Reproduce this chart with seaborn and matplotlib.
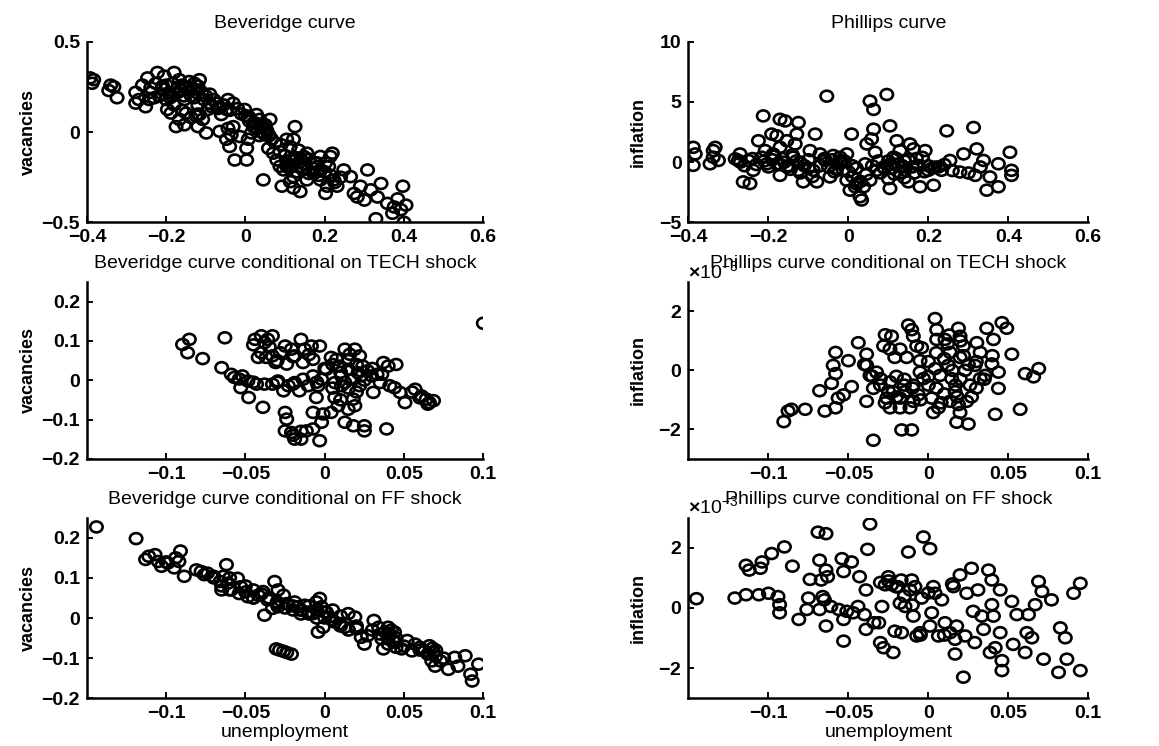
import numpy as np
import pandas as pd
import matplotlib
matplotlib.use("Agg")
import matplotlib.pyplot as plt
from matplotlib.ticker import ScalarFormatter
from matplotlib.path import Path
import seaborn as sns

# ---------------- data ----------------
# Panel 1: Beveridge curve
bev_u = [-0.392, -0.383, -0.387, -0.34, -0.332, -0.345, -0.324, -0.277, -0.277, -0.269, -0.252, -0.243,
         -0.26, -0.247, -0.239, -0.222, -0.226, -0.209, -0.205, -0.218, -0.20, -0.197, -0.188, -0.184,
         -0.192, -0.18, -0.167, -0.163, -0.154, -0.15, -0.142, -0.129, -0.12, -0.116, -0.125, -0.137,
         -0.15, -0.167, -0.175, -0.154, -0.137, -0.116, -0.12, -0.099, -0.108, -0.095, -0.09, -0.074,
         -0.065, -0.061, -0.048, -0.044, -0.031, -0.031, -0.036, -0.044, -0.065, -0.048, -0.04, -0.027,
         0.003, -0.014, 0.007, 0.003, 0.015, 0.02, 0.007, -0.002, 0.028, 0.036, 0.045, 0.053, 0.062,
         0.049, 0.066, 0.058, 0.045, 0.07, 0.087, 0.079, 0.087, 0.096, 0.104, 0.113, 0.125, 0.121,
         0.104, 0.113, 0.134, 0.147, 0.155, 0.138, 0.121, 0.113, 0.092, 0.121, 0.138, 0.155, 0.172,
         0.18, 0.189, 0.202, 0.21, 0.214, 0.219, 0.189, 0.206, 0.202, 0.223, 0.231, 0.248, 0.265,
         0.274, 0.282, 0.30, 0.308, 0.316, 0.333, 0.342, 0.358, 0.375, 0.371, 0.397, 0.405, 0.329,
         0.40, 0.392, 0.384, 0.29, -0.21, -0.19, -0.17, -0.14, -0.13, -0.10, -0.08, -0.12, -0.18,
         -0.16, 0.01, 0.02, 0.03, 0.04, 0.05, 0.035, 0.11, 0.13, 0.15, 0.17, 0.16, 0.12, 0.14, 0.18,
         0.19, -0.125, -0.12,
         -0.24, -0.23, -0.21, -0.20, -0.185, -0.17, -0.16, -0.155, -0.14, -0.13, -0.11, -0.105, -0.09,
         -0.085, -0.07, -0.055, -0.04, -0.02, -0.01, 0.0, 0.01, 0.025, 0.04, 0.055, 0.06, 0.075, 0.09,
         0.10, 0.105, 0.115, 0.125, 0.135, 0.145, 0.16, 0.175, 0.185, 0.20, 0.215, 0.225, 0.24]
bev_v = [0.30, 0.29, 0.27, 0.26, 0.25, 0.23, 0.19, 0.22, 0.16, 0.18, 0.14, 0.18,
         0.26, 0.30, 0.245, 0.33, 0.27, 0.255, 0.31, 0.20, 0.18, 0.125, 0.105, 0.27,
         0.22, 0.33, 0.29, 0.236, 0.18, 0.245, 0.28, 0.27, 0.255, 0.29, 0.22, 0.20,
         0.105, 0.07, 0.03, 0.04, 0.08, 0.097, 0.03, -0.005, 0.07, 0.125, 0.21, 0.16,
         0.14, 0.097, 0.125, 0.18, 0.16, 0.03, -0.015, 0.02, 0.004, -0.04, -0.08, -0.155,
         -0.155, -0.025, -0.04, -0.09, -0.005, 0.05, 0.087, 0.125, 0.097, 0.07, 0.04, 0.013, 0.07,
         -0.015, -0.04, -0.09, -0.265, -0.117, -0.108, -0.155, -0.19, -0.21, -0.19, -0.155, 0.03, -0.04,
         -0.04, -0.08, -0.10, -0.135, -0.117, -0.19, -0.247, -0.275, -0.30, -0.31, -0.33, -0.265, -0.23,
         -0.17, -0.135, -0.17, -0.19, -0.135, -0.117, -0.265, -0.30, -0.34, -0.265, -0.30, -0.21, -0.247,
         -0.34, -0.36, -0.377, -0.21, -0.32, -0.36, -0.285, -0.395, -0.415, -0.45, -0.30, -0.405, -0.48,
         -0.50, -0.43, -0.37, -0.30, 0.21, 0.19, 0.25, 0.23, 0.19, 0.20, 0.18, 0.15, 0.15,
         0.12, 0.06, 0.03, 0.02, 0.0, 0.04, -0.02, -0.20, -0.22, -0.18, -0.20, -0.23, -0.15, -0.15, -0.22,
         -0.21, 0.09, 0.10,
         0.22, 0.19, 0.24, 0.26, 0.20, 0.22, 0.26, 0.20, 0.25, 0.24, 0.22, 0.18, 0.16,
         0.14, 0.13, 0.15, 0.12, 0.13, 0.10, 0.09, 0.08, 0.05, 0.03, 0.0, -0.02, -0.06, -0.07,
         -0.13, -0.17, -0.19, -0.14, -0.17, -0.20, -0.15, -0.17, -0.24, -0.22, -0.24, -0.28, -0.25]

# Panel 2: Phillips curve
phil_u = [-0.388, -0.388, -0.383, -0.346, -0.338, -0.333, -0.325, -0.338, -0.283, -0.271, -0.275,
          -0.263, -0.246, -0.25, -0.238, -0.225, -0.213, -0.217, -0.204, -0.208, -0.192, -0.179,
          -0.171, -0.158, -0.125, -0.129, -0.133, -0.154, -0.171, -0.188, -0.179, -0.171, -0.154,
          -0.138, -0.125, -0.113, -0.121, -0.096, -0.083, -0.088, -0.079, -0.071, -0.058, -0.054,
          -0.046, -0.038, -0.029, -0.021, -0.013, -0.004, -0.004, 0.008, 0.004, 0.017, 0.029, 0.033,
          0.038, 0.042, 0.046, 0.054, 0.063, 0.063, 0.058, 0.067, 0.054, 0.071, 0.096, 0.104, 0.088,
          0.10, 0.104, 0.113, 0.121, 0.125, 0.129, 0.142, 0.154, 0.163, 0.15, 0.175, 0.179, 0.192,
          0.20, 0.213, 0.217, 0.233, 0.246, 0.254, 0.279, 0.288, 0.313, 0.321, 0.317, 0.338, 0.346,
          0.354, 0.375, 0.375, 0.404, 0.408, 0.408, -0.19, -0.16, -0.15, -0.14, -0.11, -0.10, 0.11,
          0.12, 0.13, 0.14, 0.16, 0.17, 0.19, 0.14, 0.10, 0.08, 0.0, 0.01, 0.02, 0.03, -0.02, -0.03,
          -0.27, -0.26, -0.24, -0.23, -0.21, -0.20, -0.185, -0.17, -0.165, -0.145, -0.13, -0.12, -0.10,
          -0.09, -0.07, -0.06, -0.05, -0.04, -0.035, -0.01, 0.01, 0.02, 0.045, 0.06, 0.075, 0.09, 0.105,
          0.115, 0.135, 0.15, 0.165, 0.185, 0.20, 0.21, 0.225, 0.24, 0.26, 0.30, 0.33]
phil_p = [-0.27, 1.23, 0.68, -0.14, 0.96, 1.23, 0.14, 0.41, 0.27, 0.68, 0.14,
          -1.64, -1.78, 0.14, -0.68, 1.78, 3.84, 0.41, -0.14, 0.96, 2.33, 2.19,
          3.56, 3.42, 3.29, 2.33, 1.51, 1.78, 1.23, 0.68, -0.14, -1.10, -0.41,
          0.41, -0.68, -1.64, 0.0, 0.96, 2.33, -0.68, -1.64, 0.68, 0.14, 5.48,
          -1.23, 0.55, -0.14, 0.41, -0.68, 0.68, -1.51, 2.33, -2.33, -2.05, -2.88, -3.15,
          -2.05, -0.14, 1.51, 5.07, 4.38, 2.74, 1.92, 0.82, -1.51, -0.68, 5.62, 3.01, -0.41,
          -1.37, -2.19, 0.41, 1.78, -0.14, 0.96, -0.68, 1.51, 1.10, -1.64, -0.27, -2.05, 0.96,
          -0.68, -1.92, -0.41, -0.68, 2.60, 0.14, -0.82, 0.68, 2.88, 1.10, -1.10, 0.14, -2.33,
          -1.23, -0.14, -2.05, 0.82, -0.68, -1.10, 0.2, 0.0, -0.3, 0.6, -0.3, 0.2, -0.5,
          0.3, -0.9, 0.1, -0.4, 0.3, -0.8, -1.3, 0.1, -0.9, -0.8, -1.2, -0.5, -1.6, 0.1, -0.6,
          0.0, -0.3, 0.3, -0.2, 0.1, -0.4, 0.5, -0.2, 0.3, -0.6, 0.1, -0.9, -0.5,
          -1.2, -0.3, 0.3, -0.4, 0.2, -0.8, 0.1, -0.3, -1.8, -1.0, -0.3, 0.1, -0.5, -0.2,
          -1.0, -0.3, 0.2, -0.9, 0.4, -0.3, -0.5, -0.4, -0.2, -0.7, -0.9, -0.4]

# Panel 3: Beveridge curve conditional on TECH shock
tech_bu = [0.10, -0.0897, -0.0854, -0.0865, -0.077, -0.063, -0.065, -0.059, -0.057, -0.054, -0.052,
           -0.0485, -0.053, -0.048, -0.043, -0.038, -0.039, -0.044, -0.040, -0.036, -0.033, -0.038,
           -0.042, -0.037, -0.033, -0.028, -0.031, -0.025, -0.021, -0.019, -0.015, -0.0127, -0.0084,
           -0.0032, -0.0074, -0.0137, -0.024, -0.0295, -0.033, -0.023, -0.026, -0.019, -0.016, -0.0137,
           -0.0105, -0.0074, -0.0042, -0.0053, -0.002, 0.001, 0.004, 0.0074, 0.0095, 0.0127, 0.0158,
           0.019, 0.022, 0.024, 0.021, 0.0148, 0.0105, 0.0063, 0.0127, 0.018, 0.023, 0.027, 0.0295,
           0.033, 0.037, 0.040, 0.035, 0.0306, 0.022, 0.018, 0.019, 0.0148, 0.0063, 0.0084, 0.004,
           -0.001, -0.002, -0.0074, 0.0127, 0.018, 0.025, 0.025, 0.039, -0.025, -0.024, -0.025, -0.021,
           -0.019, -0.015, -0.0116, -0.0074, -0.0032, 0.041, 0.044, 0.0475, 0.0506, 0.057, 0.061, 0.064,
           0.066, 0.0686, 0.065, 0.036, 0.0105,
           -0.045, -0.040, -0.035, -0.030, -0.020, -0.010, 0.0, 0.005, 0.010, 0.015, 0.020, 0.025, 0.030,
           0.015, 0.005, -0.005, -0.020, -0.030, -0.045, 0.020, 0.010, -0.015, -0.020, 0.045, 0.055, 0.060]
tech_bv = [0.145, 0.091, 0.104, 0.070, 0.055, 0.108, 0.032, 0.015, 0.007, 0.003, 0.011,
           -0.002, -0.019, -0.044, -0.010, -0.010, -0.069, 0.104, 0.113, 0.104, 0.113, 0.096,
           0.058, 0.058, 0.062, 0.070, 0.045, 0.087, 0.079, 0.062, 0.104, 0.079, 0.087,
           0.087, 0.053, 0.045, 0.041, -0.002, -0.010, -0.014, -0.027, -0.006, -0.027, 0.0025,
           -0.014, 0.011, -0.014, -0.044, 0.0025, 0.028, 0.058, 0.053, 0.036, 0.079, 0.066,
           0.079, 0.062, 0.036, 0.019, 0.028, 0.011, -0.006, -0.006, 0.0025, 0.011, 0.024, 0.011,
           0.015, 0.045, 0.036, -0.006, -0.031, -0.014, -0.048, -0.065, -0.074, -0.044, -0.065, -0.082,
           -0.086, -0.107, -0.082, -0.107, -0.116, -0.116, -0.129, -0.124, -0.082, -0.099, -0.129, -0.133,
           -0.150, -0.150, -0.129, -0.124, -0.154, -0.014, -0.019, -0.031, -0.057, -0.023, -0.040, -0.048,
           -0.057, -0.052, -0.061, 0.015, -0.014,
           0.090, 0.070, 0.085, 0.050, 0.060, 0.065, 0.030, 0.040, 0.020, 0.050, 0.040, 0.000, 0.030,
           -0.020, -0.020, -0.005, -0.010, -0.005, -0.005, -0.030, -0.050, -0.130, -0.140, 0.040, -0.030, -0.045]

# Panel 4: Phillips curve conditional on TECH shock (x 10^-3)
tech_pu = [-0.0904, -0.0877, -0.0856, -0.077, -0.0647, -0.068, -0.058, -0.0564, -0.053, -0.048, -0.0605,
           -0.058, -0.0595, -0.058, -0.050, -0.0438, -0.0386, -0.0386, -0.0365, -0.0344, -0.0386,
           -0.0344, -0.0324, -0.030, -0.027, -0.028, -0.024, -0.023, -0.021, -0.0177, -0.0136, -0.0125,
           -0.0104, -0.0094, -0.0073, -0.0042, -0.0052, -0.024, -0.022, -0.026, -0.024, -0.0177, -0.0177,
           -0.0115, -0.0094, -0.0146, -0.0094, -0.0063, -0.0052, -0.0031, -0.0167, -0.0104, 0.0, 0.0021,
           0.0042, 0.0052, 0.0052, 0.0042, 0.0073, 0.0063, 0.0031, 0.0104, 0.0136, 0.0125, 0.0146,
           0.0167, 0.0136, 0.0188, 0.0198, 0.0219, 0.0198, 0.023, 0.0188, 0.0198, 0.0177, 0.025, 0.024,
           0.026, 0.0303, 0.0324, 0.0292, 0.0324, 0.0355, 0.0365, 0.0407, 0.0397, 0.0438, 0.0438,
           0.0418, 0.046, 0.049, 0.0522, 0.0574, 0.0605, 0.0658, 0.069, 0.0, 0.01, 0.015, 0.02,
           -0.02, -0.015, 0.005, 0.025, 0.03, 0.01,
           -0.030, -0.025, -0.020, -0.015, -0.010, -0.005, 0.0, 0.005, 0.008, 0.012, 0.017, 0.022,
           0.027, 0.030, 0.035, 0.040, -0.027, -0.035, -0.040, 0.018, 0.013, 0.020]
tech_pp = [-1.74, -1.38, -1.32, -1.32, -1.38, -0.69, -1.27, -0.94, -0.83, -0.55, -0.44,
           -0.11, 0.17, 0.61, 0.33, 0.94, 0.55, 0.17, -0.17, -0.61, -1.05,
           -2.37, -0.06, -0.28, 1.21, 0.83, 0.72, 1.16, 0.44, 0.72, 0.44, 1.54,
           1.38, 1.16, 0.83, 0.77, 0.33, -0.39, -0.72, -0.94, -1.27, -0.94, -1.27,
           -1.27, -1.05, -0.72, -0.50, -0.83, -0.06, -0.28, -2.02, -2.02, -0.50, -0.94,
           1.76, 1.38, 1.05, 0.06, -0.17, -1.27, -1.43, 1.05, 0.61, 0.17, -0.28,
           -0.72, -1.05, 1.43, 1.16, 0.83, 0.44, 0.0, -1.16, -1.43, -1.76, -1.82, -1.05,
           -0.50, 0.94, 0.61, 0.17, -0.28, -0.17, 1.43, 1.05, 0.22, -0.06, -0.61,
           -1.49, 1.62, 1.43, 0.55, -1.32, -0.11, -0.22, 0.06, 0.3, 0.4, 0.0, -0.3,
           -0.2, -0.5, -0.6, 0.2, -0.6, -0.8,
           -0.5, -0.7, -0.9, -0.3, -0.6, -1.0, -0.2, 0.6, -1.1, 0.9, -0.5, 0.5,
           -0.9, 0.3, -0.3, 0.5, -1.1, -0.2, 0.2, -0.9, 1.2, 1.0]

# Panel 5: Beveridge curve conditional on FF shock
ff_bu = [-0.144, -0.119, -0.113, -0.111, -0.107, -0.105, -0.103, -0.099, -0.095, -0.092, -0.091,
         -0.094, -0.0886, -0.081, -0.078, -0.076, -0.074, -0.070, -0.066, -0.064, -0.062, -0.061,
         -0.065, -0.059, -0.055, -0.053, -0.054, -0.0485, -0.045, -0.042, -0.039, -0.038, -0.036,
         -0.0316, -0.0295, -0.026, -0.024, -0.0295, -0.033, -0.0306, -0.0285, -0.026, -0.024, -0.021,
         -0.019, -0.017, -0.0148, -0.0127, -0.0105, -0.0074, -0.0053, -0.0032, -0.0021, 0.001, -0.0042,
         -0.001, 0.003, 0.0063, 0.0095, 0.0127, 0.0148, 0.019, 0.020, 0.023, 0.025, 0.027, 0.031,
         0.034, 0.036, 0.037, 0.040, 0.041, 0.043, 0.044, 0.045, 0.0485, 0.052, 0.055, 0.057, 0.060,
         0.063, 0.066, 0.0686, 0.0675, 0.0696, 0.073, 0.078, 0.082, 0.084, 0.0886, 0.092, 0.093,
         0.097, -0.03, -0.02, -0.01, 0.0, 0.005, -0.045, -0.05, -0.06, 0.04, 0.042, 0.045, 0.065,
         0.07, 0.01, 0.015, -0.005, -0.015, -0.04,
         -0.100, -0.070, -0.065, -0.060, -0.050, -0.045, -0.035, -0.030, -0.025, -0.020, -0.015,
         -0.010, -0.005, 0.0, 0.005, 0.010, 0.020, 0.030, 0.035, 0.045, 0.050, 0.060, 0.070, 0.075,
         0.068, 0.040, 0.038]
ff_bv = [0.227, 0.198, 0.146, 0.154, 0.158, 0.141, 0.129, 0.137, 0.125, 0.141, 0.167,
         0.150, 0.104, 0.120, 0.116, 0.108, 0.112, 0.104, 0.091, 0.104, 0.133, 0.087,
         0.070, 0.070, 0.099, 0.078, 0.061, 0.053, 0.070, 0.057, 0.066, 0.007, 0.045,
         0.091, 0.070, 0.057, 0.036, 0.028, 0.024, -0.077, -0.080, -0.083, -0.086, -0.090,
         0.040, 0.028, 0.019, 0.032, 0.015, 0.011, 0.040, 0.049, 0.028, 0.015, -0.035,
         -0.023, 0.0025, -0.010, -0.014, -0.023, 0.011, 0.0025, -0.027, -0.048, -0.065, -0.044, -0.006,
         -0.023, -0.052, -0.077, -0.023, -0.040, -0.056, -0.035, -0.073, -0.077, -0.056, -0.082, -0.065, -0.073,
         -0.082, -0.069, -0.086, -0.107, -0.120, -0.107, -0.128, -0.098, -0.120, -0.094, -0.140, -0.157,
         -0.115, 0.04, 0.02, 0.03, 0.0, 0.02, 0.05, 0.08, 0.10, -0.05, -0.03, -0.05, -0.09,
         -0.08, -0.02, -0.03, 0.0, 0.01, 0.06,
         0.140, 0.100, 0.080, 0.070, 0.065, 0.050, 0.050, 0.035, 0.025, 0.030, 0.020,
         0.010, 0.020, 0.015, -0.005, 0.005, -0.020, -0.030, -0.040, -0.060, -0.070, -0.080, -0.095, -0.100,
         -0.075, -0.065, -0.035]

# Panel 6: Phillips curve conditional on FF shock (x 10^-3)
ff_pu = [-0.145, -0.121, -0.114, -0.106, -0.10, -0.094, -0.093, -0.093, -0.114, -0.112, -0.105,
         -0.104, -0.098, -0.090, -0.085, -0.081, -0.076, -0.075, -0.074, -0.069, -0.064, -0.068,
         -0.067, -0.064, -0.063, -0.066, -0.065, -0.068, -0.064, -0.061, -0.056, -0.053, -0.054,
         -0.053, -0.053, -0.051, -0.048, -0.047, -0.044, -0.043, -0.040, -0.039, -0.039, -0.038,
         -0.0365, -0.034, -0.031, -0.030, -0.029, -0.028, -0.027, -0.025, -0.022, -0.021, -0.023,
         -0.019, -0.017, -0.0177, -0.0167, -0.0146, -0.0125, -0.0115, -0.0104, -0.0094, -0.0084,
         -0.0073, -0.0052, -0.0042, -0.0031, 0.001, 0.0021, 0.001, 0.0031, 0.0042, 0.0063, 0.0084,
         0.0104, 0.0136, 0.0157, 0.0167, 0.0167, 0.0177, 0.0198, 0.0219, 0.023, 0.024, 0.027, 0.028,
         0.029, 0.031, 0.0334, 0.0345, 0.0376, 0.0386, 0.0397, 0.0397, 0.0407, 0.0418, 0.0449, 0.0449,
         0.046, 0.046, 0.0522, 0.053, 0.0553, 0.0605, 0.0626, 0.0616, 0.0668, 0.0647, 0.0689, 0.071,
         0.072, 0.077, 0.0825, 0.0856, 0.0814, 0.0866, 0.0908, 0.095, 0.095,
         -0.020, -0.015, -0.010, -0.005, 0.0, 0.010, 0.015, -0.030, -0.025]
ff_pp = [0.31, 0.33, 0.44, 0.44, 0.49, 0.38, 0.11, -0.16, 1.42, 1.26, 1.32,
         1.53, 1.81, 2.03, 1.39, -0.38, -0.05, 0.33, 0.95, 2.52, 2.47, 1.59,
         0.93, 1.26, 1.04, 0.38, 0.27, -0.05, -0.60, 0.05, -0.05, 1.21, 1.64,
         -0.38, -1.10, -0.11, 1.53, -0.16, 0.05, 1.04, -0.22, -0.71, 0.60, 1.95,
         2.79, -0.49, -0.49, -1.15, 0.05, -1.32, 0.77, 1.04, -1.48, -0.77, 0.77,
         0.71, 0.93, 0.16, -0.82, 0.05, 1.86, 0.60, 0.93, -0.27, 0.71,
         -0.93, -0.82, 0.33, 2.36, 1.97, -0.16, -0.60, 0.71, 0.49, -0.93, 0.27,
         -0.49, -0.82, 0.71, -1.04, -1.53, -0.60, 1.10, -2.30, -0.93, 0.49, 1.32, -0.11,
         -1.15, 0.60, -0.27, -0.71, 1.26, -1.48, 0.93, 0.11, -0.27, -1.32, 0.60, -0.82,
         -1.75, -2.08, 0.22, -1.21, -0.22, -1.48, -0.22, -0.82, 0.11, -0.99, 0.88, 0.55,
         -1.70, 0.27, -0.66, -0.99, -2.14, -1.70, 0.49, 0.82, -2.08,
         0.7, 0.4, 0.1, -0.9, 0.5, -0.9, 0.8, 0.85, 0.9]

infl_scale = 1e-3

titles = ["Beveridge curve", "Phillips curve",
          "Beveridge curve conditional on TECH shock", "Phillips curve conditional on TECH shock",
          "Beveridge curve conditional on FF shock", "Phillips curve conditional on FF shock"]
ylabels = ["vacancies", "inflation"]
xlabel = "unemployment"

top_xticks = [-0.4, -0.2, 0, 0.2, 0.4, 0.6]
top_xticklabels = ["\u22120.4", "\u22120.2", "0", "0.2", "0.4", "0.6"]
low_xticks = [-0.1, -0.05, 0, 0.05, 0.1]
low_xticklabels = ["\u22120.1", "\u22120.05", "0", "0.05", "0.1"]
bev_yticks = [-0.5, 0, 0.5]
bev_yticklabels = ["\u22120.5", "0", "0.5"]
phil_yticks = [-5, 0, 5, 10]
phil_yticklabels = ["\u22125", "0", "5", "10"]
cond_bev_yticks = [-0.2, -0.1, 0, 0.1, 0.2]
cond_bev_yticklabels = ["\u22120.2", "\u22120.1", "0", "0.1", "0.2"]
cond_phil_yticks = [-2e-3, 0, 2e-3]

# ---------------- style ----------------
sns.set_theme(style="ticks")
plt.rcParams["font.family"] = ["Liberation Sans", "DejaVu Sans"]
plt.rcParams["mathtext.fontset"] = "custom"
plt.rcParams["mathtext.rm"] = "Liberation Sans:bold"
plt.rcParams["mathtext.it"] = "Liberation Sans:bold"

# open-circle marker, a touch wider than tall (as in the scan)
_circ = Path.unit_circle()
oval = Path(_circ.vertices * np.array([1.0, 0.88]), _circ.codes)

fig = plt.figure(figsize=(11.59, 7.46), dpi=100)
fig.patch.set_facecolor("white")

left_cols = [0.075, 0.594]
widths = [0.342, 0.345]
rows = [(0.702, 0.242), (0.385, 0.237), (0.064, 0.242)]

panels = [
    (bev_u, bev_v, 1.0),
    (phil_u, phil_p, 1.0),
    (tech_bu, tech_bv, 1.0),
    (tech_pu, tech_pp, infl_scale),
    (ff_bu, ff_bv, 1.0),
    (ff_pu, ff_pp, infl_scale),
]

for i, (xs, ys, sc) in enumerate(panels):
    r, c = divmod(i, 2)
    b, h = rows[r]
    ax = fig.add_axes([left_cols[c], b, widths[c], h])
    ax.set_facecolor("white")
    df = pd.DataFrame({"x": np.asarray(xs, float), "y": np.asarray(ys, float) * sc})
    sns.scatterplot(data=df, x="x", y="y", ax=ax, marker=oval, s=80,
                    facecolors="none", edgecolor="black", linewidth=1.9, legend=False)
    for side in ["top", "right"]:
        ax.spines[side].set_visible(False)
    for side in ["left", "bottom"]:
        ax.spines[side].set_linewidth(1.8)
        ax.spines[side].set_color("black")
    ax.tick_params(direction="in", length=4, width=1.4, labelsize=14, pad=5, colors="black")

    if r == 0:
        ax.set_xlim(-0.4, 0.6)
        ax.set_xticks(top_xticks, top_xticklabels, fontweight="bold")
    else:
        ax.set_xlim(-0.15, 0.1)
        ax.set_xticks(low_xticks, low_xticklabels, fontweight="bold")

    if i == 0:
        ax.set_ylim(-0.5, 0.5)
        ax.set_yticks(bev_yticks, bev_yticklabels, fontweight="bold")
    elif i == 1:
        ax.set_ylim(-5, 10)
        ax.set_yticks(phil_yticks, phil_yticklabels, fontweight="bold")
    elif c == 0:
        ax.set_ylim(-0.2, 0.25)
        ax.set_yticks(cond_bev_yticks, cond_bev_yticklabels, fontweight="bold")
    else:
        ax.set_ylim(-3e-3, 3e-3)
        ax.set_yticks(cond_phil_yticks)
        fmt = ScalarFormatter(useMathText=True)
        fmt.set_powerlimits((0, 0))
        ax.yaxis.set_major_formatter(fmt)
        ax.yaxis.get_offset_text().set_fontsize(14)
        for lab in ax.get_yticklabels():
            lab.set_fontweight("bold")

    ax.set_title(titles[i], fontsize=14, y=1.0, pad=10, color="black")
    ax.set_ylabel(ylabels[c], fontsize=13, fontweight="bold", color="black")
    if c == 0:
        ax.yaxis.set_label_coords(-0.125, 0.5)
    else:
        ax.yaxis.set_label_coords(-0.105, 0.5)
    if r == 2:
        ax.set_xlabel(xlabel, fontsize=14, color="black")
        ax.xaxis.set_label_coords(0.5, -0.14)
    else:
        ax.set_xlabel("")

fig.savefig("out.png", dpi=100, facecolor="white")
